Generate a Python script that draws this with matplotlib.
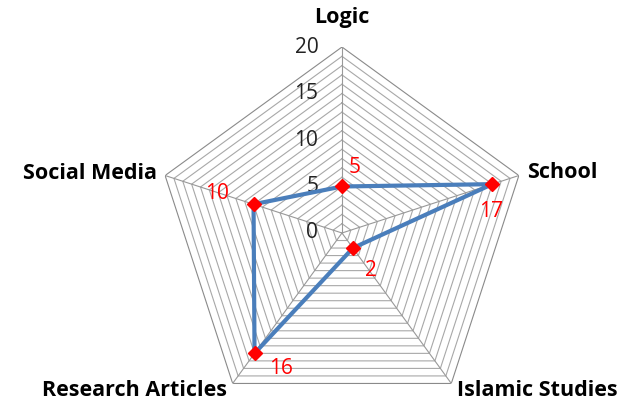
import numpy as np
import matplotlib.pyplot as plt

categories = ['Logic', 'School', 'Islamic Studies', 'Research Articles', 'Social Media']
values = [5, 17, 2, 16, 10]
tick_values = [0, 5, 10, 15, 20]
rmax = 20

# offsets (points) for category labels and value labels
cat_offsets = [(0, 21, 'center'), (6, 2, 'left'), (4, -5, 'left'), (-4, -5, 'right'), (-6, 1.5, 'right')]
val_offsets = [(9, 14), (-1, -20), (13, -16), (19, -11), (-26, 8)]

plt.rcParams['font.family'] = ['Open Sans', 'DejaVu Sans']

fig = plt.figure(figsize=(6.26, 4.03), dpi=100)
ax = fig.add_axes([0.2492, -0.0397, 0.5942, 0.9231], projection='polar')
ax.set_theta_zero_location('N')
ax.set_theta_direction(-1)
ax.set_ylim(0, rmax)
ax.grid(False)
ax.spines['polar'].set_visible(False)
ax.set_xticks([])
ax.set_yticks([])
ax.patch.set_alpha(0)

n = len(categories)
angles = np.arange(n) * 2 * np.pi / n
closed = np.append(angles, angles[0])

# pentagon rings every unit
for r in range(1, rmax + 1):
    col = '#8a8a8a' if r == rmax else '#a8a8a8'
    ax.plot(closed, [r] * (n + 1), color=col, lw=0.8, zorder=1)
# spokes
for a in angles:
    ax.plot([a, a], [0, rmax], color='#999999', lw=0.8, zorder=1)

# tick labels along the top axis
for t in tick_values:
    ax.annotate(str(t), (0, t), xytext=(-17, 0), textcoords='offset points',
                ha='right', va='center', fontsize=15, color='#222222')

# category labels
for a, name, (dx, dy, ha) in zip(angles, categories, cat_offsets):
    ax.annotate(name, (a, rmax), xytext=(dx, dy), textcoords='offset points',
                ha=ha, va='center', fontsize=15.5, fontweight='bold', color='black')

# data series
vals_closed = values + values[:1]
ax.plot(closed, vals_closed, color='#4a7ebb', lw=3, zorder=3)
ax.plot(angles, values, linestyle='none', marker='D', markersize=7,
        color='red', markeredgecolor='red', zorder=4)

for a, v, (dx, dy) in zip(angles, values, val_offsets):
    ax.annotate(str(v), (a, v), xytext=(dx, dy), textcoords='offset points',
                ha='center', va='center', fontsize=15, color='red', zorder=5)

fig.savefig('out.png', dpi=100)
